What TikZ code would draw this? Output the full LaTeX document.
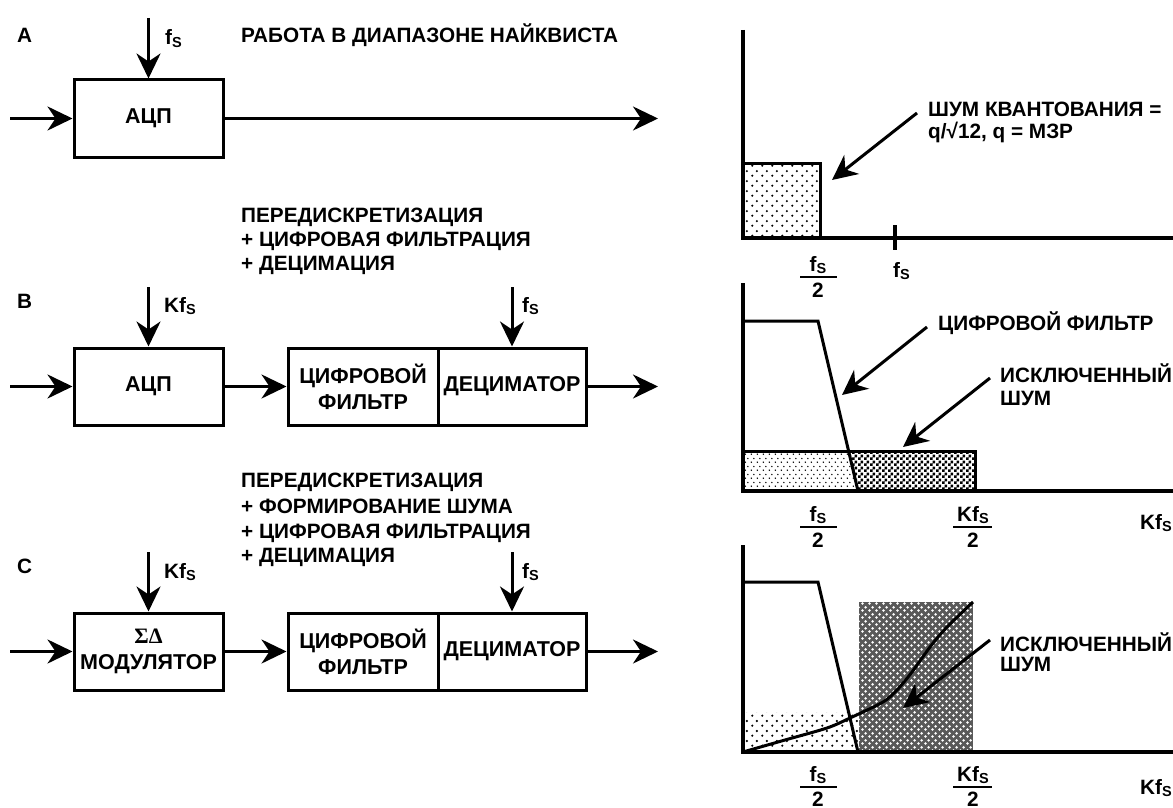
\documentclass[tikz,border=0pt]{standalone}
\usepackage{fontspec}
\setmainfont{Liberation Sans}
\newfontfamily\greekserif{Liberation Serif}
\usetikzlibrary{arrows.meta,patterns}

\pgfdeclarepatternformonly{sparsedots}{\pgfqpoint{0pt}{0pt}}{\pgfqpoint{10pt}{10pt}}{\pgfqpoint{10pt}{10pt}}{%
  \pgfpathcircle{\pgfqpoint{2.5pt}{2.5pt}}{1.3pt}%
  \pgfpathcircle{\pgfqpoint{7.5pt}{7.5pt}}{1.3pt}%
  \pgfusepath{fill}}
\pgfdeclarepatternformonly{finedots}{\pgfqpoint{0pt}{0pt}}{\pgfqpoint{6pt}{8pt}}{\pgfqpoint{6pt}{8pt}}{%
  \pgfpathcircle{\pgfqpoint{1.5pt}{2pt}}{0.9pt}%
  \pgfpathcircle{\pgfqpoint{4.5pt}{6pt}}{0.9pt}%
  \pgfusepath{fill}}
\pgfdeclarepatternformonly{checker}{\pgfqpoint{0pt}{0pt}}{\pgfqpoint{6pt}{6pt}}{\pgfqpoint{6pt}{6pt}}{%
  \pgfpathrectangle{\pgfqpoint{0pt}{0pt}}{\pgfqpoint{3pt}{3pt}}%
  \pgfpathrectangle{\pgfqpoint{3pt}{3pt}}{\pgfqpoint{3pt}{3pt}}%
  \pgfusepath{fill}}
\pgfdeclarepatternformonly{whitespots}{\pgfqpoint{0pt}{0pt}}{\pgfqpoint{7pt}{7pt}}{\pgfqpoint{7pt}{7pt}}{%
  \pgfpathcircle{\pgfqpoint{1.75pt}{1.75pt}}{1.6pt}%
  \pgfpathcircle{\pgfqpoint{5.25pt}{5.25pt}}{1.6pt}%
  \pgfusepath{fill}}

\newcommand\fsS{f\raisebox{-2.5pt}{\fontsize{14.5}{14.5}\selectfont S}}

\tikzset{
  lbl/.style={font=\fontsize{20.75}{24}\selectfont\bfseries, inner sep=0pt},
  boxtxt/.style={font=\fontsize{21.5}{26}\selectfont\bfseries, align=center},
  blk/.style={draw, line width=3pt, boxtxt, minimum height=77pt, inner sep=0pt},
  arr/.style={line width=3pt, -{Stealth[length=25pt,width=24pt,inset=8pt]}},
  ax/.style={line width=3.5pt},
  thk/.style={line width=3pt},
}

\begin{document}
\begin{tikzpicture}[x=1pt,y=-1pt]
\useasboundingbox (0,0) rectangle (1173,808);

% ---------------- A ----------------
\node[lbl, anchor=base west] (labA) at (17,43) {A};
\node[lbl, anchor=base west] (titleA) at (241,43) {РАБОТА В ДИАПАЗОНЕ НАЙКВИСТА};
\node[blk, minimum width=149pt] (adcA) at (148.5,118.5) {АЦП};
\coordinate (clkA) at (148.5,18);
\coordinate (inA) at (10,118.5);
\coordinate (outA) at (658,118.5);
\draw[arr] (clkA) -- (adcA.north);
\node[lbl, anchor=base west] (fA) at (165,45) {\fsS};
\draw[arr] (inA) -- (adcA.west);
\draw[arr] (adcA.east) -- (outA);

% ---------------- B ----------------
\node[lbl, anchor=base west] (tB1) at (241,222) {ПЕРЕДИСКРЕТИЗАЦИЯ};
\node[lbl, anchor=base west] (tB2) at (241,246) {+ ЦИФРОВАЯ ФИЛЬТРАЦИЯ};
\node[lbl, anchor=base west] (tB3) at (241,270) {+ ДЕЦИМАЦИЯ};
\node[lbl, anchor=base west] (labB) at (17,308) {B};
\node[blk, minimum width=149pt] (adcB) at (148.5,386.5) {АЦП};
\node[blk, minimum width=150pt] (filtB) at (363,386.5) {ЦИФРОВОЙ\\ФИЛЬТР};
\node[blk, minimum width=148pt] (decB) at (512,386.5) {ДЕЦИМАТОР};
\coordinate (clkB) at (148.5,287);
\coordinate (clkBd) at (512,287);
\coordinate (inB) at (10,386.5);
\coordinate (outB) at (658,386.5);
\draw[arr] (clkB) -- (adcB.north);
\draw[arr] (clkBd) -- (decB.north);
\node[lbl, anchor=base west] (fB1) at (164,312) {K\fsS};
\node[lbl, anchor=base west] (fB2) at (522,312) {\fsS};
\draw[arr] (inB) -- (adcB.west);
\draw[arr] (adcB.east) -- (filtB.west);
\draw[arr] (decB.east) -- (outB);

% ---------------- C ----------------
\node[lbl, anchor=base west] (tC1) at (241,487) {ПЕРЕДИСКРЕТИЗАЦИЯ};
\node[lbl, anchor=base west] (tC2) at (241,513) {+ ФОРМИРОВАНИЕ ШУМА};
\node[lbl, anchor=base west] (tC3) at (241,538) {+ ЦИФРОВАЯ ФИЛЬТРАЦИЯ};
\node[lbl, anchor=base west] (tC4) at (241,562) {+ ДЕЦИМАЦИЯ};
\node[lbl, anchor=base west] (labC) at (17,573) {C};
\node[blk, minimum width=149pt] (modC) at (148.5,651.5) {{\greekserif\fontsize{22}{24}\selectfont\bfseries ΣΔ}\\МОДУЛЯТОР};
\node[blk, minimum width=150pt] (filtC) at (363,651.5) {ЦИФРОВОЙ\\ФИЛЬТР};
\node[blk, minimum width=148pt] (decC) at (512,651.5) {ДЕЦИМАТОР};
\coordinate (clkC) at (148.5,552);
\coordinate (clkCd) at (512,552);
\coordinate (inC) at (10,651.5);
\coordinate (outC) at (658,651.5);
\draw[arr] (clkC) -- (modC.north);
\draw[arr] (clkCd) -- (decC.north);
\node[lbl, anchor=base west] (fC1) at (164,578) {K\fsS};
\node[lbl, anchor=base west] (fC2) at (522,578) {\fsS};
\draw[arr] (inC) -- (modC.west);
\draw[arr] (modC.east) -- (filtC.west);
\draw[arr] (decC.east) -- (outC);

% ---------------- Graph 1 ----------------
\draw[thk, pattern=sparsedots] (743,163) rectangle (820,238);
\draw[ax] (743,30) -- (743,238) -- (1185,238);
\draw[ax] (895,225) -- (895,250);
\node[lbl, anchor=base west] (q1) at (928,117) {ШУМ КВАНТОВАНИЯ =};
\node[lbl, anchor=base west] (q2) at (928,138) {q/√12, q = МЗР};
\coordinate (qt) at (917,113);
\coordinate (qh) at (832,180);
\draw[arr] (qt) -- (qh);
\node[lbl, anchor=base] (g1n) at (818,271) {\fsS};
\draw[line width=2pt] (800,277) -- (837,277);
\node[lbl, anchor=base] (g1d) at (818,297) {2};
\node[lbl, anchor=base west] (g1f) at (893,277) {\fsS};

% ---------------- Graph 2 ----------------
\fill[pattern=finedots] (743,451) -- (848.6,451) -- (858,491) -- (743,491) -- cycle;
\fill[pattern=checker] (848.6,451) -- (975,451) -- (975,491) -- (858,491) -- cycle;
\draw[thk] (743,451) rectangle (975,491);
\draw[thk] (743,321) -- (818,321) -- (858,491);
\draw[ax] (743,283) -- (743,491) -- (1185,491);
\node[lbl, anchor=base west] (df) at (938,330) {ЦИФРОВОЙ ФИЛЬТР};
\coordinate (dft) at (927,327);
\coordinate (dfh) at (842,395);
\draw[arr] (dft) -- (dfh);
\node[lbl, anchor=base west] (ex2a) at (1000,382) {ИСКЛЮЧЕННЫЙ};
\node[lbl, anchor=base west] (ex2b) at (1000,405) {ШУМ};
\coordinate (ex2t) at (990,378);
\coordinate (ex2h) at (903,447);
\draw[arr] (ex2t) -- (ex2h);
\node[lbl, anchor=base] (g2n1) at (818,521) {\fsS};
\draw[line width=2pt] (800,527) -- (837,527);
\node[lbl, anchor=base] (g2d1) at (818,547) {2};
\node[lbl, anchor=base] (g2n2) at (973,521) {K\fsS};
\draw[line width=2pt] (953,527) -- (992,527);
\node[lbl, anchor=base] (g2d2) at (973,547) {2};
\node[lbl, anchor=base east] (g2k) at (1172,529) {K\fsS};

% ---------------- Graph 3 ----------------
\fill[pattern=sparsedots] (743,712) rectangle (858,752);
\fill[black!65] (859,602) rectangle (973,752);
\fill[pattern=whitespots, pattern color=white] (859,602) rectangle (973,752);
\draw[thk] (743,582) -- (818,582) -- (858,752);
\draw[thk] plot[smooth] coordinates {(743,752) (785,740) (827,728) (850,718) (883,702) (897,690) (912,672) (930,647) (947,627) (973,602)};
\draw[ax] (743,545) -- (743,752) -- (1185,752);
\node[lbl, anchor=base west] (ex3a) at (1000,651) {ИСКЛЮЧЕННЫЙ};
\node[lbl, anchor=base west] (ex3b) at (1000,671) {ШУМ};
\coordinate (ex3t) at (990,640);
\coordinate (ex3h) at (903,708);
\draw[arr] (ex3t) -- (ex3h);
\node[lbl, anchor=base] (g3n1) at (818,781) {\fsS};
\draw[line width=2pt] (800,787) -- (837,787);
\node[lbl, anchor=base] (g3d1) at (818,806) {2};
\node[lbl, anchor=base] (g3n2) at (973,781) {K\fsS};
\draw[line width=2pt] (953,787) -- (992,787);
\node[lbl, anchor=base] (g3d2) at (973,806) {2};
\node[lbl, anchor=base east] (g3k) at (1172,794) {K\fsS};
\end{tikzpicture}
\end{document}
